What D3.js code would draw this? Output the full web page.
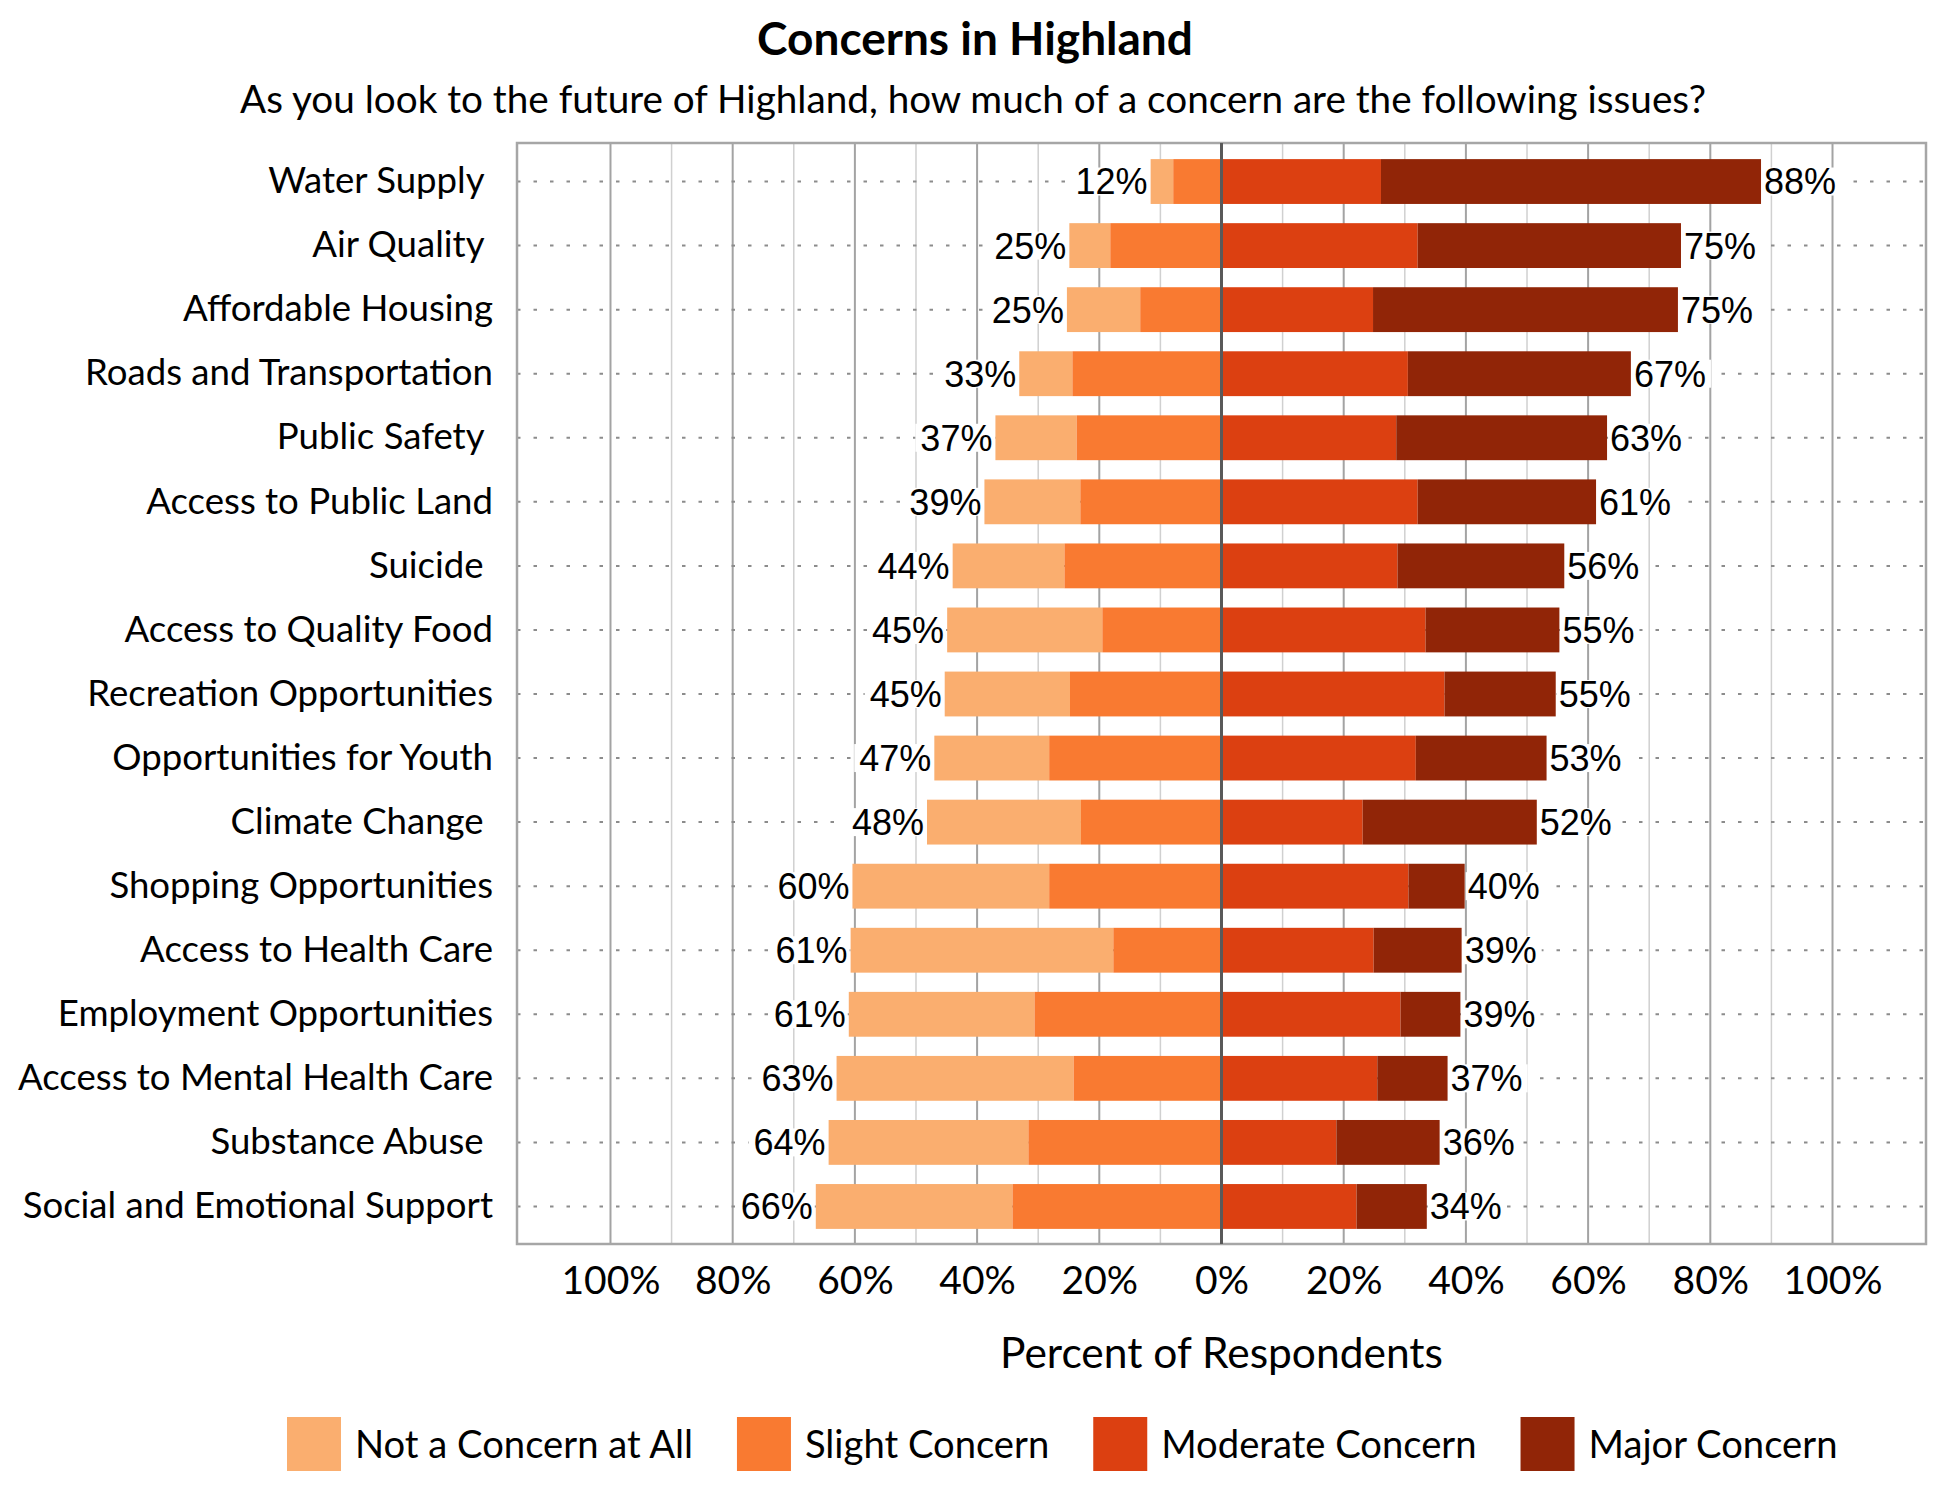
<!DOCTYPE html>
<html>
<head>
<meta charset="utf-8">
<script src="https://cdn.jsdelivr.net/npm/d3@7"></script>
<style>
  body { margin: 0; background: #fff; }
  text { font-family: Lato, "Open Sans", sans-serif; fill: #000; }
  .val { font-family: "Liberation Sans", Arial, sans-serif; }
</style>
</head>
<body>
<div id="chart"></div>
<script>
// survey items, top to bottom (trailing spaces are in the source labels)
const categories = [
  "Water Supply ", "Air Quality ", "Affordable Housing", "Roads and Transportation",
  "Public Safety ", "Access to Public Land", "Suicide ", "Access to Quality Food",
  "Recreation Opportunities", "Opportunities for Youth", "Climate Change ",
  "Shopping Opportunities", "Access to Health Care", "Employment Opportunities",
  "Access to Mental Health Care", "Substance Abuse ", "Social and Emotional Support"
];
const notConcern = [3.7, 6.7, 12.0, 8.7, 13.3, 15.7, 18.3, 25.4, 20.5, 18.8, 25.2, 32.2, 43.0, 30.4, 38.8, 32.7, 32.2];
const slightConcern = [7.9, 18.2, 13.3, 24.4, 23.7, 23.1, 25.7, 19.5, 24.8, 28.2, 23.0, 28.2, 17.7, 30.6, 24.2, 31.6, 34.2];
const moderateConcern = [26.1, 32.1, 24.8, 30.5, 28.6, 32.1, 28.8, 33.4, 36.5, 31.8, 23.1, 30.6, 24.9, 29.3, 25.5, 18.8, 22.1];
const majorConcern = [62.2, 43.1, 49.9, 36.5, 34.5, 29.2, 27.3, 21.9, 18.2, 21.4, 28.5, 9.2, 14.4, 9.8, 11.5, 16.9, 11.5];

const seriesNames = ["Not a Concern at All", "Slight Concern", "Moderate Concern", "Major Concern"];
const seriesColors = ["#faae6f", "#f97a31", "#dc4011", "#912507"];
const tickValues = [-100, -80, -60, -40, -20, 0, 20, 40, 60, 80, 100];

const width = 1950, height = 1500;
const plot = {left: 517, right: 1926, top: 143, bottom: 1244};

const svg = d3.select("#chart").append("svg")
  .attr("width", width)
  .attr("height", height);

const x = d3.scaleLinear()
  .domain([-115.3, 115.3])
  .range([plot.left, plot.right]);

const y = d3.scaleBand()
  .domain(categories)
  .range([149.5, 1238.5])
  .paddingInner(0.3)
  .paddingOuter(0.15);

// gridlines
svg.append("g").selectAll("line")
  .data(d3.range(-90, 91, 20))
  .join("line")
  .attr("x1", d => x(d)).attr("x2", d => x(d))
  .attr("y1", plot.top).attr("y2", plot.bottom)
  .attr("stroke", "#d0d0d0").attr("stroke-width", 1.5);

svg.append("g").selectAll("line")
  .data(tickValues.filter(v => v !== 0))
  .join("line")
  .attr("x1", d => x(d)).attr("x2", d => x(d))
  .attr("y1", plot.top).attr("y2", plot.bottom)
  .attr("stroke", "#a3a3a3").attr("stroke-width", 2);

// dotted row guides
svg.append("g").selectAll("line")
  .data(categories)
  .join("line")
  .attr("x1", plot.left).attr("x2", plot.right)
  .attr("y1", d => y(d) + y.bandwidth() / 2)
  .attr("y2", d => y(d) + y.bandwidth() / 2)
  .attr("stroke", "#8c8c8c").attr("stroke-width", 2)
  .attr("stroke-dasharray", "3.5 13");

// plot frame
svg.append("rect")
  .attr("x", plot.left).attr("y", plot.top)
  .attr("width", plot.right - plot.left).attr("height", plot.bottom - plot.top)
  .attr("fill", "none").attr("stroke", "#a6a6a6").attr("stroke-width", 2.5);

// bars
const rows = categories.map((c, i) => {
  const n = notConcern[i], s = slightConcern[i], m = moderateConcern[i], j = majorConcern[i];
  return {
    cat: c,
    left: n + s,
    right: m + j,
    segs: [
      {k: 0, x0: -(n + s), x1: -s},
      {k: 1, x0: -s, x1: 0},
      {k: 2, x0: 0, x1: m},
      {k: 3, x0: m, x1: m + j}
    ]
  };
});

const row = svg.append("g").selectAll("g")
  .data(rows)
  .join("g")
  .attr("transform", d => `translate(0,${y(d.cat)})`);

row.selectAll("rect")
  .data(d => d.segs)
  .join("rect")
  .attr("x", d => x(d.x0))
  .attr("width", d => x(d.x1) - x(d.x0))
  .attr("height", y.bandwidth())
  .attr("fill", d => seriesColors[d.k]);

// center line
svg.append("line")
  .attr("x1", x(0)).attr("x2", x(0))
  .attr("y1", plot.top).attr("y2", plot.bottom)
  .attr("stroke", "#595959").attr("stroke-width", 3);

// value labels on white boxes
function valueLabel(sel, side) {
  const g = sel.append("g");
  const bg = g.append("rect").attr("fill", "#fff");
  const t = g.append("text")
    .attr("class", "val")
    .attr("x", d => side < 0 ? x(-d.left) - 3 : x(d.right) + 3)
    .attr("y", y.bandwidth() / 2)
    .attr("dy", "0.36em")
    .attr("text-anchor", side < 0 ? "end" : "start")
    .style("font-size", "36px")
    .text(d => Math.round(side < 0 ? d.left : d.right) + "%");
  t.each(function() {
    const b = this.getBBox();
    const r = d3.select(this.parentNode).select("rect");
    if (side < 0) r.attr("x", b.x - 5).attr("width", b.width + 7);
    else r.attr("x", b.x - 2).attr("width", b.width + 7);
    r.attr("y", y.bandwidth() / 2 - 14).attr("height", 28);
  });
}
valueLabel(row, -1);
valueLabel(row, 1);

// category axis
const yAxis = svg.append("g")
  .attr("transform", `translate(${plot.left},0)`)
  .call(d3.axisLeft(y).tickSize(0).tickPadding(24));
yAxis.select(".domain").remove();
yAxis.selectAll("text")
  .attr("xml:space", "preserve")
  .style("white-space", "pre")
  .style("font-family", "Lato")
  .style("font-size", "36.6px")
  .attr("fill", "#000");

// percent axis
const xAxis = svg.append("g")
  .attr("transform", `translate(0,${plot.bottom})`)
  .call(d3.axisBottom(x).tickValues(tickValues).tickSize(0).tickPadding(22)
    .tickFormat(d => Math.abs(d) + "%"));
xAxis.select(".domain").remove();
xAxis.selectAll("text")
  .style("font-family", "Lato")
  .style("font-size", "39px")
  .attr("fill", "#000");

svg.append("text")
  .attr("x", x(0)).attr("y", 1368)
  .attr("text-anchor", "middle")
  .style("font-size", "42.5px")
  .text("Percent of Respondents");

// titles
svg.append("text")
  .attr("x", 975).attr("y", 55)
  .attr("text-anchor", "middle")
  .style("font-size", "46px").style("font-weight", "bold")
  .text("Concerns in Highland");

svg.append("text")
  .attr("x", 973).attr("y", 113)
  .attr("text-anchor", "middle")
  .style("font-size", "38.7px")
  .text("As you look to the future of Highland, how much of a concern are the following issues?");

// legend
const legend = svg.append("g");
let lx = 287;
seriesNames.forEach((name, i) => {
  legend.append("rect")
    .attr("x", lx).attr("y", 1417)
    .attr("width", 54).attr("height", 54)
    .attr("fill", seriesColors[i]);
  const t = legend.append("text")
    .attr("x", lx + 68).attr("y", 1458)
    .style("font-size", "38.2px")
    .text(name);
  lx += 68 + t.node().getComputedTextLength() + 44;
});
</script>
</body>
</html>
